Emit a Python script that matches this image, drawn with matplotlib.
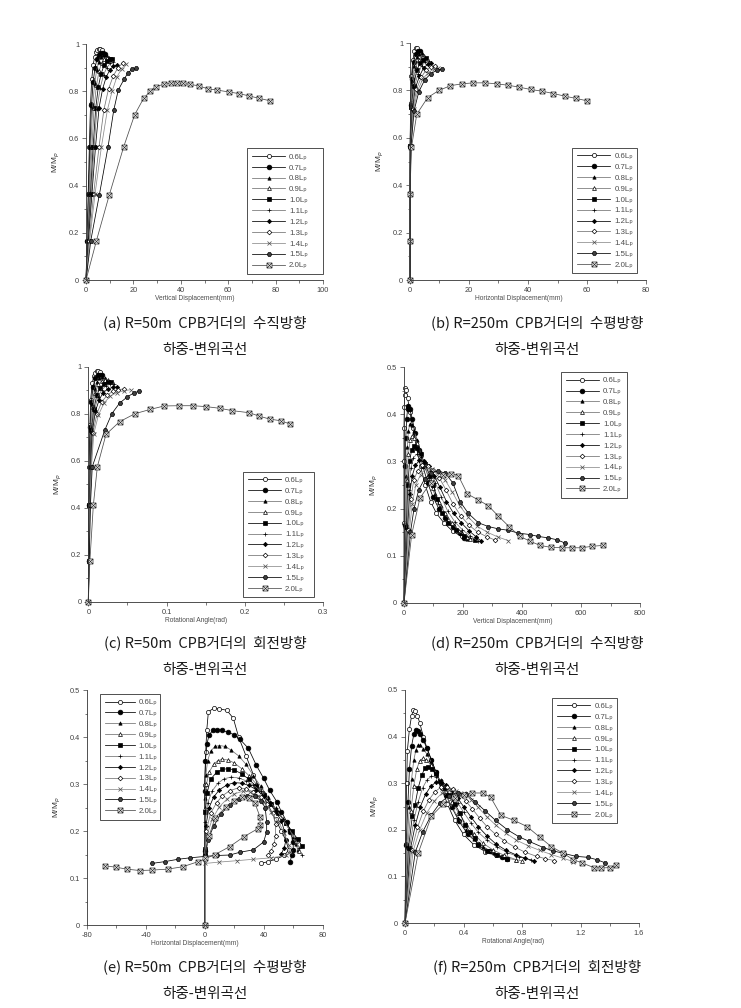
import matplotlib
matplotlib.use('Agg')
import matplotlib.pyplot as plt
from matplotlib.path import Path
from matplotlib.ticker import MultipleLocator

plt.rcParams['font.family'] = ['Liberation Sans', 'DejaVu Sans', 'Noto Sans CJK KR']

labels = ['0.6Lₚ', '0.7Lₚ', '0.8Lₚ', '0.9Lₚ', '1.0Lₚ', '1.1Lₚ',
          '1.2Lₚ', '1.3Lₚ', '1.4Lₚ', '1.5Lₚ', '2.0Lₚ']

# (a) R=50m, vertical displacement (mm)
a_x = [
    [0, 0.4, 0.9, 1.4, 1.9, 2.4, 3.0, 3.6, 4.2, 4.8, 5.4, 6.0, 6.6],
    [0, 0.5, 1.1, 1.7, 2.3, 3.0, 3.8, 4.6, 5.4, 6.2, 7.0, 7.8],
    [0, 0.6, 1.3, 2.0, 2.8, 3.6, 4.5, 5.4, 6.3, 7.2, 8.1, 9.0],
    [0, 0.7, 1.6, 2.5, 3.4, 4.4, 5.5, 6.6, 7.7, 8.8, 9.8],
    [0, 0.8, 1.9, 3.0, 4.1, 5.2, 6.4, 7.6, 8.8, 10.0, 11.0],
    [0, 0.9, 2.2, 3.4, 4.6, 6.0, 7.4, 8.8, 10.2, 11.5],
    [0, 1.0, 2.5, 4.0, 5.5, 7.0, 8.5, 10.0, 11.5, 13.0],
    [0, 1.3, 3.2, 5.5, 7.5, 9.5, 11.5, 13.5, 15.5],
    [0, 1.5, 3.8, 6.5, 9.0, 11.0, 13.0, 15.0, 17.0],
    [0, 2.0, 5.6, 9.3, 11.7, 13.6, 16.0, 17.6, 19.4, 21.2],
    [0, 4.4, 9.8, 15.9, 20.5, 24.3, 27.1, 29.5, 33.0, 36.0, 38.5, 41.0, 44.0, 47.5,
     51.5, 55.3, 60.2, 64.6, 68.9, 73.0, 77.5],
]
a_y = [
    [0, 0.165, 0.365, 0.565, 0.745, 0.85, 0.91, 0.945, 0.965, 0.975, 0.978, 0.977, 0.974],
    [0, 0.165, 0.365, 0.565, 0.74, 0.84, 0.9, 0.935, 0.955, 0.963, 0.963, 0.958],
    [0, 0.165, 0.365, 0.565, 0.735, 0.83, 0.89, 0.925, 0.945, 0.952, 0.952, 0.948],
    [0, 0.165, 0.365, 0.565, 0.73, 0.825, 0.885, 0.92, 0.937, 0.943, 0.942],
    [0, 0.165, 0.365, 0.565, 0.73, 0.82, 0.875, 0.91, 0.928, 0.935, 0.935],
    [0, 0.165, 0.365, 0.565, 0.725, 0.815, 0.87, 0.9, 0.918, 0.925],
    [0, 0.165, 0.365, 0.565, 0.73, 0.81, 0.86, 0.89, 0.905, 0.912],
    [0, 0.165, 0.365, 0.565, 0.72, 0.81, 0.865, 0.9, 0.92],
    [0, 0.165, 0.365, 0.565, 0.72, 0.8, 0.86, 0.895, 0.915],
    [0, 0.167, 0.36, 0.565, 0.72, 0.805, 0.85, 0.876, 0.893, 0.897],
    [0, 0.167, 0.36, 0.565, 0.70, 0.77, 0.80, 0.82, 0.83, 0.834, 0.834, 0.833, 0.829,
     0.823, 0.81, 0.805, 0.797, 0.79, 0.78, 0.77, 0.76],
]

# (b) R=250m, horizontal displacement (mm)
b_x = [
    [0, 0, 0, 0.05, 0.2, 0.5, 1.0, 1.5, 2.0, 2.5],
    [0, 0, 0, 0.05, 0.25, 0.6, 1.2, 1.9, 2.6, 3.3],
    [0, 0, 0, 0.05, 0.3, 0.8, 1.5, 2.3, 3.2, 4.0],
    [0, 0, 0, 0.1, 0.4, 1.0, 1.9, 2.9, 3.9, 4.8],
    [0, 0, 0, 0.1, 0.5, 1.2, 2.3, 3.4, 4.5, 5.5],
    [0, 0, 0, 0.15, 0.6, 1.5, 2.7, 4.0, 5.2, 6.3],
    [0, 0, 0, 0.2, 0.8, 1.8, 3.2, 4.6, 6.0, 7.2],
    [0, 0, 0, 0.25, 1.0, 2.2, 3.8, 5.4, 7.0, 8.4],
    [0, 0, 0, 0.3, 1.2, 2.6, 4.4, 6.2, 8.0, 9.6],
    [0, 0, 0, 0.35, 1.4, 3.0, 5.0, 7.0, 9.0, 10.7],
    [0, 0, 0, 0.5, 2.3, 6.0, 9.8, 13.7, 17.6, 21.5, 25.4, 29.4, 33.2, 37.0, 40.9,
     44.7, 48.6, 52.4, 56.4, 60.1],
]
b_y = [
    [0, 0.165, 0.365, 0.565, 0.745, 0.86, 0.93, 0.965, 0.978, 0.98],
    [0, 0.165, 0.365, 0.565, 0.74, 0.85, 0.92, 0.955, 0.967, 0.968],
    [0, 0.165, 0.365, 0.565, 0.735, 0.84, 0.905, 0.94, 0.955, 0.957],
    [0, 0.165, 0.365, 0.565, 0.73, 0.83, 0.895, 0.93, 0.943, 0.945],
    [0, 0.165, 0.365, 0.565, 0.73, 0.82, 0.885, 0.915, 0.93, 0.935],
    [0, 0.165, 0.365, 0.565, 0.725, 0.815, 0.87, 0.905, 0.92, 0.925],
    [0, 0.165, 0.365, 0.565, 0.72, 0.81, 0.86, 0.895, 0.91, 0.915],
    [0, 0.165, 0.365, 0.565, 0.72, 0.805, 0.855, 0.885, 0.9, 0.905],
    [0, 0.165, 0.365, 0.565, 0.72, 0.8, 0.85, 0.875, 0.89, 0.895],
    [0, 0.165, 0.365, 0.565, 0.715, 0.795, 0.845, 0.87, 0.885, 0.89],
    [0, 0.165, 0.365, 0.56, 0.70, 0.77, 0.80, 0.82, 0.828, 0.832, 0.832, 0.828, 0.822,
     0.814, 0.804, 0.797, 0.787, 0.776, 0.766, 0.756],
]

# (c) R=50m, rotational angle (rad)
c_x = [
    [0, 0.0003, 0.0007, 0.0012, 0.002, 0.003, 0.005, 0.007, 0.009, 0.011, 0.013, 0.015],
    [0, 0.0004, 0.0009, 0.0015, 0.0025, 0.004, 0.006, 0.009, 0.012, 0.015, 0.018],
    [0, 0.0005, 0.001, 0.0018, 0.003, 0.005, 0.008, 0.011, 0.014, 0.018, 0.021],
    [0, 0.0005, 0.0012, 0.002, 0.0035, 0.006, 0.009, 0.013, 0.017, 0.021, 0.025],
    [0, 0.0006, 0.0014, 0.0024, 0.004, 0.007, 0.011, 0.015, 0.02, 0.025, 0.029],
    [0, 0.0007, 0.0016, 0.0027, 0.0045, 0.008, 0.012, 0.017, 0.022, 0.028, 0.033],
    [0, 0.0008, 0.0018, 0.003, 0.005, 0.009, 0.014, 0.019, 0.025, 0.031, 0.037],
    [0, 0.0009, 0.002, 0.0034, 0.006, 0.011, 0.017, 0.024, 0.031, 0.038, 0.045],
    [0, 0.001, 0.0023, 0.004, 0.007, 0.013, 0.02, 0.028, 0.037, 0.046, 0.054],
    [0, 0.0012, 0.0027, 0.005, 0.021, 0.03, 0.04, 0.05, 0.058, 0.065],
    [0, 0.002, 0.0064, 0.0115, 0.0226, 0.040, 0.0596, 0.0788, 0.097, 0.116, 0.134,
     0.151, 0.168, 0.184, 0.206, 0.218, 0.232, 0.246, 0.258],
]
c_y = [
    [0, 0.174, 0.41, 0.574, 0.75, 0.86, 0.93, 0.96, 0.975, 0.98, 0.98, 0.977],
    [0, 0.174, 0.41, 0.574, 0.745, 0.85, 0.915, 0.95, 0.963, 0.966, 0.963],
    [0, 0.174, 0.41, 0.574, 0.74, 0.84, 0.905, 0.935, 0.95, 0.955, 0.953],
    [0, 0.174, 0.41, 0.574, 0.735, 0.83, 0.89, 0.925, 0.94, 0.945, 0.944],
    [0, 0.174, 0.41, 0.574, 0.73, 0.82, 0.88, 0.91, 0.928, 0.935, 0.935],
    [0, 0.174, 0.41, 0.574, 0.725, 0.815, 0.87, 0.9, 0.918, 0.925, 0.926],
    [0, 0.174, 0.41, 0.574, 0.72, 0.81, 0.86, 0.89, 0.905, 0.912, 0.914],
    [0, 0.174, 0.41, 0.574, 0.72, 0.8, 0.85, 0.878, 0.895, 0.903, 0.905],
    [0, 0.174, 0.41, 0.574, 0.715, 0.795, 0.845, 0.875, 0.89, 0.898, 0.902],
    [0, 0.174, 0.41, 0.574, 0.73, 0.8, 0.845, 0.872, 0.888, 0.896],
    [0, 0.174, 0.41, 0.574, 0.712, 0.766, 0.80, 0.818, 0.833, 0.834, 0.834, 0.83,
     0.823, 0.813, 0.804, 0.79, 0.777, 0.77, 0.756],
]

# (d) R=250m, vertical displacement (mm)
d_x = [
    [0, 0, 0, 0, 1, 2, 4, 7, 12, 20, 30, 42, 56, 72, 90, 110, 135, 165, 195],
    [0, 2, 4, 6, 9, 12, 15, 20, 28, 38, 50, 64, 80, 98, 118, 140, 165, 190, 205],
    [0, 4, 7, 11, 15, 20, 26, 34, 44, 56, 70, 86, 104, 124, 146, 170, 195, 215],
    [0, 6, 10, 15, 21, 27, 34, 43, 54, 67, 82, 99, 118, 139, 162, 187, 212, 225],
    [0, 8, 13, 19, 26, 35, 45, 57, 71, 87, 100, 112, 128, 150, 175, 205, 240],
    [0, 10, 16, 23, 32, 43, 56, 71, 88, 106, 126, 148, 172, 198, 225, 250],
    [0, 12, 19, 28, 39, 52, 67, 84, 102, 122, 144, 168, 194, 222, 245, 262],
    [0, 15, 23, 33, 46, 62, 80, 100, 120, 142, 166, 192, 220, 250, 282, 310],
    [0, 18, 28, 40, 56, 75, 96, 118, 140, 164, 190, 218, 248, 282, 318, 354],
    [0, 22, 34, 50, 70, 92, 115, 140, 165, 190, 218, 252, 286, 320, 354, 388, 427,
     455, 489, 518, 546],
    [0, 26, 54, 90, 133, 160, 184, 215, 250, 286, 320, 356, 393, 427, 461, 497, 534,
     568, 602, 636, 673],
]
d_y = [
    [0, 0.17, 0.30, 0.37, 0.415, 0.44, 0.455, 0.452, 0.435, 0.405, 0.37, 0.33, 0.29,
     0.25, 0.215, 0.19, 0.17, 0.152, 0.141],
    [0, 0.165, 0.29, 0.35, 0.39, 0.41, 0.417, 0.41, 0.39, 0.36, 0.325, 0.29, 0.255,
     0.225, 0.2, 0.18, 0.162, 0.148, 0.138],
    [0, 0.163, 0.27, 0.33, 0.365, 0.38, 0.378, 0.365, 0.345, 0.32, 0.29, 0.26, 0.23,
     0.205, 0.183, 0.165, 0.148, 0.136],
    [0, 0.161, 0.26, 0.315, 0.345, 0.353, 0.35, 0.34, 0.32, 0.295, 0.27, 0.243, 0.215,
     0.19, 0.17, 0.153, 0.14, 0.135],
    [0, 0.16, 0.25, 0.3, 0.325, 0.332, 0.328, 0.315, 0.295, 0.27, 0.25, 0.22, 0.19,
     0.17, 0.155, 0.142, 0.134],
    [0, 0.158, 0.24, 0.285, 0.308, 0.315, 0.31, 0.298, 0.28, 0.255, 0.225, 0.195,
     0.172, 0.155, 0.142, 0.132],
    [0, 0.156, 0.23, 0.27, 0.292, 0.302, 0.3, 0.29, 0.27, 0.245, 0.215, 0.19, 0.17,
     0.152, 0.14, 0.131],
    [0, 0.154, 0.22, 0.26, 0.28, 0.292, 0.29, 0.282, 0.265, 0.24, 0.21, 0.185, 0.165,
     0.15, 0.14, 0.133],
    [0, 0.152, 0.21, 0.25, 0.272, 0.285, 0.284, 0.276, 0.26, 0.235, 0.205, 0.182,
     0.163, 0.15, 0.14, 0.132],
    [0, 0.15, 0.2, 0.24, 0.263, 0.276, 0.28, 0.275, 0.255, 0.215, 0.19, 0.17, 0.162,
     0.157, 0.154, 0.148, 0.145, 0.141, 0.138, 0.134, 0.127],
    [0, 0.145, 0.222, 0.255, 0.272, 0.274, 0.27, 0.231, 0.219, 0.206, 0.184, 0.162,
     0.141, 0.131, 0.122, 0.118, 0.117, 0.117, 0.117, 0.12, 0.122],
]

# (e) R=50m, horizontal displacement (mm)
e_x = [
    [0, 0, 0, 0.7, 1.4, 2.5, 6, 10, 15, 19.4, 23, 28, 33, 38, 43, 48, 52, 55, 57, 54,
     48, 43, 38],
    [0, 0, 0, 0.5, 1.5, 3, 5.5, 8.5, 12, 16, 20, 24, 29.6, 35, 40, 44, 49, 52, 55.6,
     58, 60, 60, 59, 58],
    [0, 0, 0.2, 0.8, 2, 4, 7, 10, 14, 18, 23, 28, 33, 38, 43, 48, 53, 57, 60, 62, 63],
    [0, 0, 0.3, 1.2, 3, 6, 9, 12, 16, 20, 25, 30, 35, 40, 45, 50, 55, 59, 62, 64],
    [0, 0, 0, 0.4, 1.5, 4, 8, 12, 16, 20, 25, 30, 35, 40, 45, 50, 55, 59, 63, 66],
    [0, 0, 0.5, 2, 5, 9, 13, 18, 23, 28, 33, 38, 43, 48, 53, 57, 61, 64, 66],
    [0, 0, 0.7, 3, 6, 10, 15, 20, 25, 30, 35, 40, 44, 48, 52, 54, 55, 54, 52],
    [0, 0, 1, 4, 8, 12, 17, 23, 28, 33, 38, 42, 46, 48, 48, 47, 45, 43],
    [0, 0, 1.5, 5, 10, 15, 20, 26, 31, 36, 40, 45, 50, 54, 57, 58, 55, 45, 33, 22,
     10, 0],
    [0, 0, 2, 6, 11, 17, 23, 29, 34, 38, 41, 42, 42, 40, 33, 24, 17, 8, 0, -10, -18,
     -27, -36],
    [0, 0, 3, 7, 14.7, 20, 25, 30, 34, 37.5, 37.5, 36, 26.6, 17, 7, -4.3, -15, -25,
     -35.5, -44, -53, -60, -67.6],
]
e_y = [
    [0, 0.16, 0.298, 0.369, 0.415, 0.454, 0.461, 0.46, 0.457, 0.44, 0.4, 0.36, 0.32,
     0.285, 0.255, 0.225, 0.2, 0.18, 0.16, 0.148, 0.14, 0.135, 0.131],
    [0, 0.158, 0.285, 0.35, 0.385, 0.405, 0.414, 0.416, 0.414, 0.41, 0.405, 0.395,
     0.376, 0.34, 0.312, 0.287, 0.262, 0.241, 0.22, 0.199, 0.177, 0.16, 0.149, 0.135],
    [0, 0.156, 0.27, 0.32, 0.35, 0.37, 0.38, 0.382, 0.38, 0.372, 0.36, 0.342, 0.318,
     0.295, 0.272, 0.248, 0.225, 0.205, 0.188, 0.172, 0.16],
    [0, 0.155, 0.25, 0.3, 0.325, 0.342, 0.35, 0.353, 0.351, 0.345, 0.333, 0.318, 0.3,
     0.28, 0.26, 0.24, 0.218, 0.197, 0.178, 0.158],
    [0, 0.15, 0.162, 0.24, 0.28, 0.31, 0.325, 0.331, 0.333, 0.33, 0.322, 0.31, 0.295,
     0.277, 0.258, 0.238, 0.218, 0.2, 0.183, 0.168],
    [0, 0.154, 0.22, 0.26, 0.285, 0.302, 0.311, 0.315, 0.313, 0.307, 0.298, 0.285,
     0.268, 0.248, 0.225, 0.205, 0.185, 0.165, 0.148],
    [0, 0.152, 0.21, 0.25, 0.272, 0.288, 0.298, 0.303, 0.302, 0.297, 0.288, 0.275,
     0.26, 0.242, 0.222, 0.2, 0.18, 0.165, 0.152],
    [0, 0.15, 0.2, 0.238, 0.26, 0.275, 0.286, 0.292, 0.29, 0.283, 0.272, 0.257, 0.238,
     0.215, 0.19, 0.172, 0.158, 0.148],
    [0, 0.148, 0.19, 0.225, 0.252, 0.268, 0.279, 0.285, 0.283, 0.275, 0.262, 0.24,
     0.22, 0.195, 0.17, 0.155, 0.148, 0.143, 0.14, 0.137, 0.134, 0.131],
    [0, 0.146, 0.18, 0.21, 0.237, 0.256, 0.268, 0.275, 0.274, 0.265, 0.25, 0.22,
     0.199, 0.177, 0.16, 0.155, 0.149, 0.148, 0.146, 0.143, 0.14, 0.135, 0.131],
    [0, 0.143, 0.19, 0.228, 0.252, 0.265, 0.273, 0.27, 0.26, 0.23, 0.213, 0.205,
     0.188, 0.167, 0.15, 0.135, 0.124, 0.119, 0.117, 0.116, 0.119, 0.123, 0.126],
]

# (f) R=250m, rotational angle (rad)
f_x = [
    [0, 0.004, 0.011, 0.016, 0.03, 0.045, 0.057, 0.07, 0.085, 0.1, 0.125, 0.15, 0.18,
     0.21, 0.25, 0.29, 0.34, 0.4, 0.47, 0.55, 0.62],
    [0, 0.008, 0.02, 0.03, 0.045, 0.06, 0.075, 0.09, 0.105, 0.125, 0.15, 0.18, 0.21,
     0.245, 0.28, 0.32, 0.37, 0.43, 0.5, 0.58, 0.66, 0.70],
    [0, 0.013, 0.03, 0.045, 0.06, 0.075, 0.09, 0.105, 0.125, 0.15, 0.18, 0.21, 0.245,
     0.28, 0.32, 0.365, 0.415, 0.47, 0.535, 0.605, 0.68, 0.76],
    [0, 0.018, 0.04, 0.06, 0.08, 0.1, 0.12, 0.145, 0.175, 0.21, 0.245, 0.28, 0.32,
     0.365, 0.415, 0.47, 0.53, 0.6, 0.68, 0.76, 0.8],
    [0, 0.024, 0.05, 0.068, 0.09, 0.115, 0.137, 0.16, 0.185, 0.21, 0.24, 0.27, 0.3,
     0.34, 0.376, 0.41, 0.444, 0.478, 0.5, 0.56, 0.63, 0.7],
    [0, 0.03, 0.06, 0.09, 0.12, 0.15, 0.18, 0.21, 0.245, 0.28, 0.32, 0.36, 0.4, 0.45,
     0.5, 0.56, 0.63, 0.7, 0.78, 0.86],
    [0, 0.036, 0.07, 0.105, 0.14, 0.175, 0.21, 0.245, 0.28, 0.32, 0.36, 0.4, 0.45,
     0.5, 0.56, 0.62, 0.69, 0.76, 0.82, 0.88],
    [0, 0.045, 0.085, 0.125, 0.165, 0.205, 0.245, 0.285, 0.325, 0.37, 0.415, 0.46,
     0.51, 0.56, 0.62, 0.68, 0.75, 0.82, 0.9, 0.96, 1.02],
    [0, 0.055, 0.1, 0.15, 0.2, 0.25, 0.3, 0.35, 0.4, 0.45, 0.5, 0.56, 0.62, 0.69,
     0.76, 0.84, 0.92, 1.0, 1.08, 1.15],
    [0, 0.07, 0.12, 0.18, 0.24, 0.3, 0.36, 0.42, 0.48, 0.55, 0.62, 0.7, 0.78, 0.85,
     0.945, 1.01, 1.09, 1.17, 1.25, 1.31, 1.37],
    [0, 0.09, 0.18, 0.26, 0.34, 0.40, 0.46, 0.53, 0.585, 0.656, 0.747, 0.834, 0.922,
     1.0, 1.08, 1.15, 1.21, 1.29, 1.34, 1.40, 1.44],
]
f_y = [
    [0, 0.17, 0.30, 0.37, 0.416, 0.445, 0.457, 0.455, 0.445, 0.43, 0.40, 0.375, 0.35,
     0.325, 0.29, 0.255, 0.22, 0.19, 0.168, 0.153, 0.145],
    [0, 0.168, 0.26, 0.33, 0.38, 0.405, 0.415, 0.413, 0.405, 0.392, 0.375, 0.35,
     0.325, 0.3, 0.275, 0.248, 0.218, 0.19, 0.17, 0.155, 0.142, 0.138],
    [0, 0.166, 0.25, 0.31, 0.35, 0.372, 0.382, 0.381, 0.374, 0.362, 0.345, 0.322,
     0.298, 0.275, 0.25, 0.225, 0.2, 0.18, 0.163, 0.15, 0.141, 0.135],
    [0, 0.164, 0.24, 0.295, 0.33, 0.348, 0.353, 0.35, 0.34, 0.322, 0.302, 0.283, 0.26,
     0.237, 0.213, 0.192, 0.172, 0.157, 0.145, 0.136, 0.133],
    [0, 0.162, 0.23, 0.253, 0.29, 0.318, 0.333, 0.334, 0.33, 0.32, 0.305, 0.29, 0.275,
     0.255, 0.236, 0.21, 0.195, 0.182, 0.167, 0.155, 0.145, 0.138],
    [0, 0.16, 0.22, 0.26, 0.29, 0.307, 0.315, 0.314, 0.307, 0.295, 0.278, 0.258,
     0.238, 0.215, 0.195, 0.178, 0.163, 0.151, 0.142, 0.135],
    [0, 0.158, 0.21, 0.25, 0.276, 0.293, 0.302, 0.303, 0.297, 0.285, 0.268, 0.25,
     0.228, 0.207, 0.187, 0.17, 0.156, 0.146, 0.139, 0.134],
    [0, 0.156, 0.205, 0.24, 0.265, 0.282, 0.291, 0.292, 0.288, 0.277, 0.262, 0.245,
     0.225, 0.207, 0.19, 0.176, 0.163, 0.152, 0.143, 0.138, 0.134],
    [0, 0.154, 0.2, 0.237, 0.262, 0.278, 0.285, 0.284, 0.278, 0.265, 0.248, 0.228,
     0.21, 0.193, 0.178, 0.166, 0.156, 0.147, 0.139, 0.132],
    [0, 0.152, 0.195, 0.232, 0.258, 0.273, 0.279, 0.276, 0.26, 0.24, 0.22, 0.2, 0.185,
     0.175, 0.162, 0.155, 0.149, 0.143, 0.141, 0.136, 0.129],
    [0, 0.15, 0.229, 0.255, 0.268, 0.275, 0.279, 0.279, 0.27, 0.231, 0.22, 0.207,
     0.184, 0.164, 0.15, 0.136, 0.129, 0.119, 0.118, 0.119, 0.124],
]

# square with a cross inside, as used for 2.0Lp
sq_x = Path([(-1, -1), (1, -1), (1, 1), (-1, 1), (-1, -1), (-1, -1), (1, 1), (-1, 1), (1, -1)],
            [Path.MOVETO, Path.LINETO, Path.LINETO, Path.LINETO, Path.CLOSEPOLY,
             Path.MOVETO, Path.LINETO, Path.MOVETO, Path.LINETO])

styles = [
    dict(marker='o', mfc='white', mec='black', ms=3.0, color='black'),
    dict(marker='o', mfc='black', mec='black', ms=3.4, color='black'),
    dict(marker='^', mfc='black', mec='black', ms=2.4, color='0.45'),
    dict(marker='^', mfc='white', mec='black', ms=2.8, color='0.45'),
    dict(marker='s', mfc='black', mec='black', ms=3.0, color='black'),
    dict(marker='+', mfc='black', mec='black', ms=3.2, color='0.45'),
    dict(marker='D', mfc='black', mec='black', ms=2.2, color='black'),
    dict(marker='D', mfc='white', mec='black', ms=2.4, color='0.45'),
    dict(marker='x', mfc='black', mec='0.3', ms=2.6, color='0.55'),
    dict(marker='H', mfc='0.25', mec='black', ms=3.2, color='black'),
    dict(marker=sq_x, mfc='white', mec='0.15', ms=3.6, color='0.3'),
]


def panel(rect, xs, ys, xlim, ylim, xmaj, xmin, ymaj, ymin, xlabel, leg_box, hlen=4.2):
    ax = fig.add_axes(rect)
    for i in range(len(labels)):
        st = styles[i]
        ax.plot(xs[i], ys[i], color=st['color'], lw=0.55, marker=st['marker'],
                mfc=st['mfc'], mec=st['mec'], ms=st['ms'], mew=0.5, label=labels[i],
                clip_on=False)
    ax.set_xlim(*xlim)
    ax.set_ylim(*ylim)
    ax.xaxis.set_major_locator(MultipleLocator(xmaj))
    ax.xaxis.set_minor_locator(MultipleLocator(xmin))
    ax.yaxis.set_major_locator(MultipleLocator(ymaj))
    ax.yaxis.set_minor_locator(MultipleLocator(ymin))
    ax.xaxis.set_major_formatter(fmt_plain)
    ax.yaxis.set_major_formatter(fmt_plain)
    ax.spines['top'].set_visible(False)
    ax.spines['right'].set_visible(False)
    for s in ['left', 'bottom']:
        ax.spines[s].set_linewidth(0.6)
        ax.spines[s].set_color('0.2')
    ax.tick_params(which='major', direction='out', length=3, width=0.5, labelsize=5.3,
                   colors='0.25', pad=2)
    ax.tick_params(which='minor', direction='out', length=1.8, width=0.5, colors='0.25')
    ax.text(0.46, -0.065, xlabel, transform=ax.transAxes, ha='center', va='top',
            fontsize=4.8, color='0.3')
    ax.set_ylabel('M/M$_p$', fontsize=6, color='0.2', labelpad=5)
    leg = ax.legend(loc='upper left', bbox_to_anchor=leg_box, mode='expand',
                    fontsize=5.7, handlelength=hlen, handletextpad=0.5,
                    labelspacing=0.42, borderpad=0.6, borderaxespad=0,
                    fancybox=False, edgecolor='0.2', framealpha=1)
    leg.get_frame().set_linewidth(0.6)
    for t in leg.get_texts():
        t.set_color('0.3')
    return ax


fig = plt.figure(figsize=(7.41, 10.08), dpi=100)

fmt_plain = matplotlib.ticker.FuncFormatter(lambda v, p: ('%g' % round(v, 3)))

panel([0.1161, 0.7222, 0.3198, 0.2341], a_x, a_y, (0, 100), (0, 1), 20, 10, 0.2, 0.1,
      'Vertical Displacement(mm)', (0.68, 0.0, 0.32, 0.558))
panel([0.5533, 0.7222, 0.3185, 0.2351], b_x, b_y, (0, 80), (0, 1), 20, 10, 0.2, 0.1,
      'Horizontal Displacement(mm)', (0.688, 0.0, 0.275, 0.558))
panel([0.1192, 0.4031, 0.3167, 0.2331], c_x, c_y, (0, 0.3), (0, 1), 0.1, 0.05, 0.2, 0.1,
      'Rotational Angle(rad)', (0.66, 0.0, 0.302, 0.553))
panel([0.5452, 0.4018, 0.3185, 0.2341], d_x, d_y, (0, 800), (0, 0.5), 200, 100, 0.1, 0.05,
      'Vertical Displacement(mm)', (0.665, 0.0, 0.279, 0.978))
panel([0.1170, 0.0823, 0.3185, 0.2331], e_x, e_y, (-80, 80), (0, 0.5), 40, 20, 0.1, 0.05,
      'Horizontal Displacement(mm)', (0.056, 0.0, 0.255, 0.983), hlen=3.8)
panel([0.5466, 0.0843, 0.3158, 0.2312], f_x, f_y, (0, 1.6), (0, 0.5), 0.4, 0.2, 0.1, 0.05,
      'Rotational Angle(rad)', (0.63, 0.0, 0.275, 0.967))

captions = [
    ('(a) R=50m  CPB거더의  수직방향', 0.2767, 0.6796),
    ('(b) R=250m  CPB거더의  수평방향', 0.7247, 0.6796),
    ('(c) R=50m  CPB거더의  회전방향', 0.2767, 0.3621),
    ('(d) R=250m  CPB거더의  수직방향', 0.7247, 0.3621),
    ('(e) R=50m  CPB거더의  수평방향', 0.2767, 0.0407),
    ('(f) R=250m  CPB거더의  회전방향', 0.7247, 0.0407),
]
for txt, cx, cy in captions:
    fig.text(cx, cy, txt, ha='center', va='center', fontsize=10.5,
             family=['Noto Sans CJK KR'], color='0.1')
    fig.text(cx, cy - 0.0268, '하중-변위곡선', ha='center', va='center', fontsize=10.5,
             family=['Noto Sans CJK KR'], color='0.1')

fig.savefig('out.png', dpi=100)
